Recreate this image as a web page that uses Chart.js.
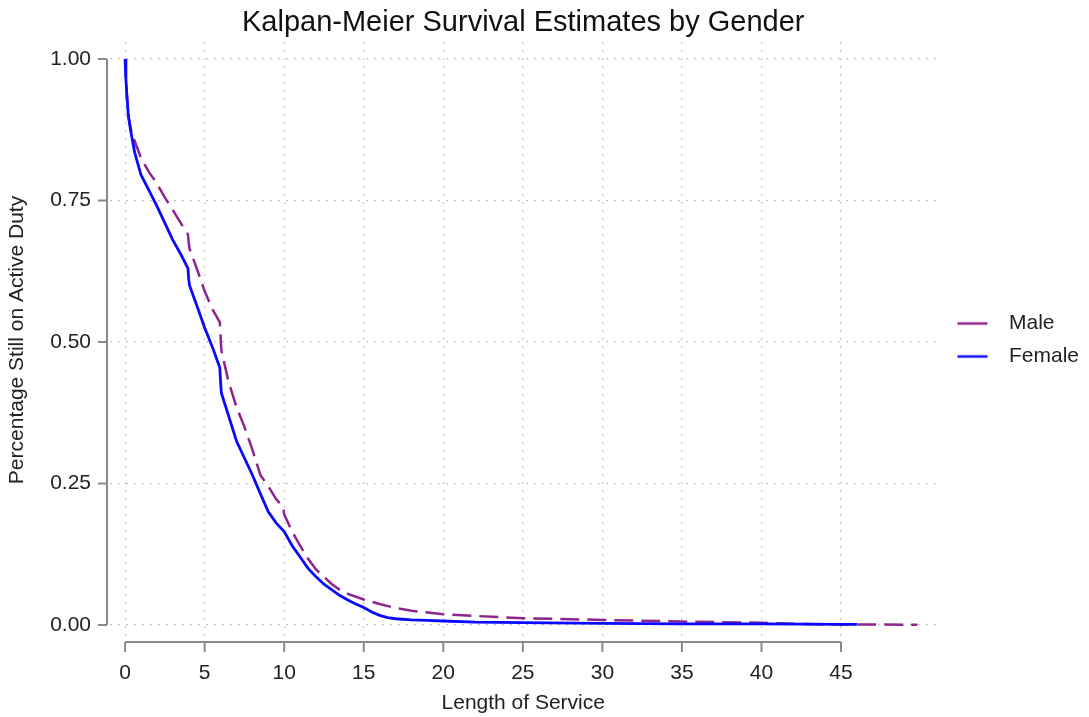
<!DOCTYPE html>
<html>
<head>
<meta charset="utf-8">
<script src="https://cdn.jsdelivr.net/npm/chart.js@4"></script>
<style>
  body { margin: 0; background: #fff; }
  #wrap { width: 1089px; height: 717px; }
</style>
</head>
<body>
<div id="wrap"><canvas id="km_genero"></canvas></div>
<script>
// survival curves (years of service, share still active)
const maleTime = [0, 0.05, 0.1, 0.2, 0.35, 0.6, 1.0, 1.5, 2.0, 2.5, 3.0, 3.5, 3.95, 4.0, 4.05, 4.5, 5.0, 5.5, 5.95, 6.0, 6.05,
    6.5, 7.0, 7.5, 8.0, 8.5, 9.0, 9.5, 9.95, 10.0, 10.5, 11, 11.5, 12, 12.5, 13, 13.5, 14, 15, 16, 17, 18, 20, 22, 25,
    30, 35, 40, 42, 45, 49.8];
const maleSurv = [1.0, 0.965, 0.94, 0.9, 0.877, 0.855, 0.825, 0.80, 0.78, 0.755, 0.733, 0.71, 0.69, 0.675, 0.665, 0.63, 0.59, 0.557, 0.535, 0.51, 0.485,
    0.43, 0.385, 0.35, 0.31, 0.265, 0.245, 0.222, 0.208, 0.195, 0.165, 0.14, 0.117, 0.098, 0.085, 0.072, 0.062, 0.055, 0.045, 0.037, 0.03, 0.025, 0.019, 0.016, 0.012,
    0.009, 0.006, 0.004, 0.002, 0.001, 0.0005];

const femaleTime = [0, 0.05, 0.1, 0.2, 0.35, 0.6, 1.0, 1.5, 2.0, 2.5, 3.0, 3.5, 3.95, 4.0, 4.05, 4.5, 5.0, 5.5, 5.95, 6.0, 6.05,
    6.5, 7.0, 7.5, 8.0, 8.5, 9.0, 9.5, 10, 10.5, 11, 11.5, 12, 12.5, 13, 13.5, 14, 14.5, 15, 15.5, 16, 16.5, 17, 18, 19, 20,
    22, 25, 30, 35, 40, 45, 46];
const femaleSurv = [1.0, 0.965, 0.94, 0.9, 0.873, 0.835, 0.795, 0.768, 0.74, 0.71, 0.68, 0.655, 0.63, 0.61, 0.60, 0.565, 0.525, 0.49, 0.455, 0.43, 0.41,
    0.37, 0.325, 0.295, 0.265, 0.232, 0.20, 0.18, 0.165, 0.14, 0.12, 0.10, 0.085, 0.072, 0.062, 0.052, 0.044, 0.037, 0.031, 0.023, 0.017, 0.013, 0.011, 0.009, 0.008, 0.007,
    0.005, 0.004, 0.003, 0.002, 0.002, 0.001, 0.001];

const xTicks = [0, 5, 10, 15, 20, 25, 30, 35, 40, 45];
const yTicks = [0, 0.25, 0.5, 0.75, 1];

const corMale = '#8e248e';
const corFemale = '#0a0aff';
const fonte = "'Liberation Sans', Arial, sans-serif";

function juntaPontos(tempos, valores) {
    return tempos.map((t, i) => ({ x: t, y: valores[i] }));
}

// short line sample for the legend (left part of a wider box)
function amostraLinha(cor) {
    const c = document.createElement('canvas');
    c.width = 50;
    c.height = 6;
    const g = c.getContext('2d');
    g.strokeStyle = cor;
    g.lineWidth = 2.5;
    g.beginPath();
    g.moveTo(9, 3);
    g.lineTo(39, 3);
    g.stroke();
    return c;
}

// Stata-like axes: lines only over the tick range, sitting a little off the plot
const eixosSeparados = {
    id: 'eixosSeparados',
    afterDraw(chart) {
        const { ctx, chartArea } = chart;
        const x = chart.scales.x, y = chart.scales.y;
        ctx.save();
        ctx.strokeStyle = '#8a8a8a';
        ctx.lineWidth = 2;
        ctx.setLineDash([]);
        const yBase = chartArea.bottom + 4;
        ctx.beginPath();
        ctx.moveTo(x.getPixelForValue(xTicks[0]), yBase);
        ctx.lineTo(x.getPixelForValue(xTicks[xTicks.length - 1]), yBase);
        xTicks.forEach(v => {
            const px = x.getPixelForValue(v);
            ctx.moveTo(px, yBase);
            ctx.lineTo(px, yBase + 10);
        });
        const xBase = chartArea.left - 3;
        ctx.moveTo(xBase, y.getPixelForValue(yTicks[0]));
        ctx.lineTo(xBase, y.getPixelForValue(yTicks[yTicks.length - 1]));
        yTicks.forEach(v => {
            const py = y.getPixelForValue(v);
            ctx.moveTo(xBase, py);
            ctx.lineTo(xBase - 9, py);
        });
        ctx.stroke();
        ctx.restore();
    }
};

const data_km_genero = {
    datasets: [{
        label: 'Male',
        data: juntaPontos(maleTime, maleSurv),
        borderColor: corMale,
        borderWidth: 2.5,
        borderDash: [19, 8],
        pointRadius: 0,
        tension: 0,
        order: 1
    }, {
        label: 'Female',
        data: juntaPontos(femaleTime, femaleSurv),
        borderColor: corFemale,
        borderWidth: 2.8,
        pointRadius: 0,
        tension: 0,
        order: 0
    }]
};

// in v4 the grid line dash comes from border.dash
const gradePontilhada = { color: '#c4c4c4', lineWidth: 1.2, drawTicks: false };
const bordaPontilhada = { display: false, dash: [2, 6] };

const config_km_genero = {
    type: 'line',
    data: data_km_genero,
    plugins: [eixosSeparados],
    options: {
        responsive: true,
        maintainAspectRatio: false,
        animation: false,
        layout: { padding: 0 },
        plugins: {
            title: {
                display: true,
                text: 'Kalpan-Meier Survival Estimates by Gender',
                fullSize: false,
                color: '#111',
                font: { family: fonte, size: 29, weight: 'normal', lineHeight: 1 },
                padding: { top: 8, bottom: 5 }
            },
            legend: {
                position: 'right',
                fullSize: false,
                labels: {
                    color: '#222',
                    font: { family: fonte, size: 21 },
                    usePointStyle: true,
                    pointStyleWidth: 50,
                    padding: 12,
                    sort: (a, b) => a.datasetIndex - b.datasetIndex,
                    generateLabels(chart) {
                        const itens = Chart.defaults.plugins.legend.labels.generateLabels(chart);
                        itens.forEach(it => {
                            const ds = chart.data.datasets[it.datasetIndex];
                            it.pointStyle = amostraLinha(ds.borderColor);
                            it.lineDash = [];
                        });
                        return itens;
                    }
                }
            },
            tooltip: { enabled: false }
        },
        scales: {
            x: {
                type: 'linear',
                min: -0.95,
                max: 51,
                afterFit(scale) { scale.height = 79; },
                afterBuildTicks(scale) { scale.ticks = xTicks.map(v => ({ value: v })); },
                border: bordaPontilhada,
                grid: gradePontilhada,
                ticks: {
                    color: '#222',
                    padding: 23,
                    maxRotation: 0,
                    font: { family: fonte, size: 21 }
                },
                title: {
                    display: true,
                    text: 'Length of Service',
                    color: '#222',
                    font: { family: fonte, size: 21 },
                    padding: { top: 0, bottom: 1 }
                }
            },
            y: {
                type: 'linear',
                min: -0.023,
                max: 1.03,
                afterFit(scale) { scale.width = 110; },
                afterBuildTicks(scale) { scale.ticks = yTicks.map(v => ({ value: v })); },
                border: bordaPontilhada,
                grid: gradePontilhada,
                ticks: {
                    color: '#222',
                    padding: 19,
                    font: { family: fonte, size: 21 },
                    callback: v => v.toFixed(2)
                },
                title: {
                    display: true,
                    text: 'Percentage Still on Active Duty',
                    color: '#222',
                    font: { family: fonte, size: 21 },
                    padding: { top: 5, bottom: 0 }
                }
            }
        }
    }
};

const grafico_km_genero = new Chart(
    document.getElementById('km_genero'),
    config_km_genero
);
</script>
</body>
</html>
